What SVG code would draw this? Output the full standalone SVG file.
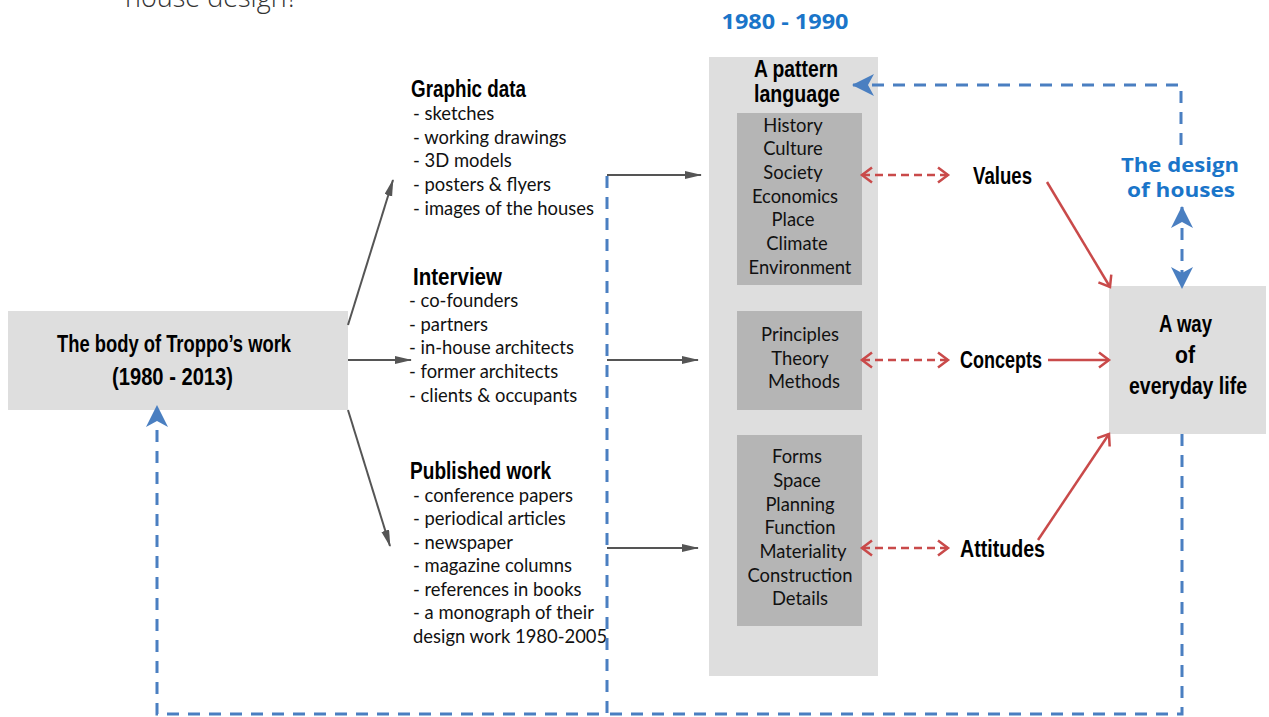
<svg xmlns="http://www.w3.org/2000/svg" width="1269" height="717" viewBox="0 0 1269 717">
<style>
.bg{fill:#fff}
.box{fill:#dedede}
.inner{fill:#b5b5b5}
.hd{font-family:"Liberation Sans",Arial,sans-serif;font-weight:bold;fill:#000;font-size:23px}
.it{font-family:Lato,"Liberation Sans",sans-serif;font-size:18.4px;fill:#111}
.ct{font-family:Lato,"Liberation Sans",sans-serif;font-size:18.4px;fill:#111;text-anchor:middle}
.blue{font-family:"Open Sans","Liberation Sans",sans-serif;font-weight:bold;fill:#1a75c9;text-anchor:middle}
.gl{stroke:#555;stroke-width:2;fill:none}
.rd{stroke:#c94a4a;stroke-width:2.5;fill:none;stroke-dasharray:8 5}
.rs{stroke:#c94a4a;stroke-width:2.5;fill:none}
.bl{stroke:#4a7fc1;stroke-width:3;fill:none;stroke-dasharray:12 9}
</style>
<defs>
<marker id="ga" markerUnits="userSpaceOnUse" markerWidth="18" markerHeight="10" refX="16" refY="4" orient="auto"><path d="M0,0 L17,4 L0,8 Z" fill="#555"/></marker>
<marker id="rc" markerUnits="userSpaceOnUse" markerWidth="14" markerHeight="20" refX="11" refY="9" orient="auto-start-reverse"><path d="M1,1.5 L11,9 L1,16.5" fill="none" stroke="#c94a4a" stroke-width="2.5"/></marker>
<marker id="ba" markerUnits="userSpaceOnUse" markerWidth="24" markerHeight="24" refX="21" refY="11" orient="auto-start-reverse"><path d="M0,0 L22,11 L0,22 L6,11 Z" fill="#4a7fc1"/></marker>
</defs>
<rect class="bg" x="0" y="0" width="1269" height="717"/>
<text x="125" y="7" font-family="'Open Sans','Liberation Sans',sans-serif" font-size="27" font-weight="300" fill="#333">house design?</text>

<g id="troppo">
<rect class="box" x="8" y="311" width="340" height="99"/>
<text class="hd" x="57" y="352" textLength="234" lengthAdjust="spacingAndGlyphs">The body of Troppo’s work</text>
<text class="hd" x="112" y="385" textLength="121" lengthAdjust="spacingAndGlyphs">(1980 - 2013)</text>
</g>

<g id="graphic">
<text class="hd" x="411" y="97" textLength="115" lengthAdjust="spacingAndGlyphs">Graphic data</text>
<text class="it" x="413" y="120">- sketches</text>
<text class="it" x="413" y="144">- working drawings</text>
<text class="it" x="413" y="167">- 3D models</text>
<text class="it" x="413" y="191">- posters &amp; flyers</text>
<text class="it" x="413" y="215">- images of the houses</text>
</g>

<g id="interview">
<text class="hd" x="413" y="285" textLength="89" lengthAdjust="spacingAndGlyphs">Interview</text>
<text class="it" x="409" y="307">- co-founders</text>
<text class="it" x="409" y="331">- partners</text>
<text class="it" x="409" y="354">- in-house architects</text>
<text class="it" x="409" y="378">- former architects</text>
<text class="it" x="409" y="402">- clients &amp; occupants</text>
</g>

<g id="published">
<text class="hd" x="410" y="479" textLength="141" lengthAdjust="spacingAndGlyphs">Published work</text>
<text class="it" x="413" y="502">- conference papers</text>
<text class="it" x="413" y="525">- periodical articles</text>
<text class="it" x="413" y="549">- newspaper</text>
<text class="it" x="413" y="572">- magazine columns</text>
<text class="it" x="413" y="596">- references in books</text>
<text class="it" x="413" y="619">- a monograph of their</text>
<text class="it" x="413" y="643">design work 1980-2005</text>
</g>

<g id="pattern">
<rect class="box" x="709" y="57" width="169" height="619"/>
<text class="hd" font-size="20"><tspan x="754" y="77" textLength="84" lengthAdjust="spacingAndGlyphs">A pattern</tspan><tspan x="754" y="102" textLength="86" lengthAdjust="spacingAndGlyphs">language</tspan></text>
</g>

<g id="values-box">
<rect class="inner" x="737" y="113" width="125" height="172"/>
<text class="ct" x="793" y="132">History</text>
<text class="ct" x="793" y="155">Culture</text>
<text class="ct" x="793" y="179">Society</text>
<text class="ct" x="795" y="203">Economics</text>
<text class="ct" x="793" y="226">Place</text>
<text class="ct" x="797" y="250">Climate</text>
<text class="ct" x="800" y="274">Environment</text>
</g>

<g id="concepts-box">
<rect class="inner" x="737" y="311" width="125" height="99"/>
<text class="ct" x="800" y="341">Principles</text>
<text class="ct" x="800" y="365">Theory</text>
<text class="ct" x="804" y="388">Methods</text>
</g>

<g id="attitudes-box">
<rect class="inner" x="737" y="435" width="125" height="191"/>
<text class="ct" x="797" y="463">Forms</text>
<text class="ct" x="797" y="487">Space</text>
<text class="ct" x="800" y="511">Planning</text>
<text class="ct" x="800" y="534">Function</text>
<text class="ct" x="803" y="558">Materiality</text>
<text class="ct" x="800" y="582">Construction</text>
<text class="ct" x="800" y="605">Details</text>
</g>

<g id="period"><text class="blue" x="785" y="29" font-size="21" textLength="127" lengthAdjust="spacingAndGlyphs">1980 - 1990</text></g>

<g id="values"><text class="hd" x="973" y="184" textLength="59" lengthAdjust="spacingAndGlyphs">Values</text></g>
<g id="concepts"><text class="hd" x="960" y="368" textLength="82" lengthAdjust="spacingAndGlyphs">Concepts</text></g>
<g id="attitudes"><text class="hd" x="960" y="557" textLength="85" lengthAdjust="spacingAndGlyphs">Attitudes</text></g>

<g id="design"><text class="blue" x="1180" y="172" font-size="20" textLength="118" lengthAdjust="spacingAndGlyphs">The design</text><text class="blue" x="1181" y="197" font-size="20" textLength="108" lengthAdjust="spacingAndGlyphs">of houses</text></g>

<g id="everyday">
<rect class="box" x="1109" y="286" width="157" height="148"/>
<text class="hd" x="1159" y="332" textLength="53" lengthAdjust="spacingAndGlyphs">A way</text>
<text class="hd" x="1175" y="363" textLength="20" lengthAdjust="spacingAndGlyphs">of</text>
<text class="hd" x="1129" y="394" textLength="118" lengthAdjust="spacingAndGlyphs">everyday life</text>
</g>

<g id="connectors">
<line class="gl" x1="348" y1="325" x2="393" y2="180" marker-end="url(#ga)"/>
<line class="gl" x1="348" y1="360" x2="411" y2="360" marker-end="url(#ga)"/>
<line class="gl" x1="348" y1="410" x2="390" y2="546" marker-end="url(#ga)"/>
<line class="gl" x1="607" y1="175" x2="701" y2="175" marker-end="url(#ga)"/>
<line class="gl" x1="607" y1="360" x2="698" y2="360" marker-end="url(#ga)"/>
<line class="gl" x1="607" y1="548" x2="698" y2="548" marker-end="url(#ga)"/>
<line class="rd" x1="862" y1="175" x2="948" y2="175" marker-start="url(#rc)" marker-end="url(#rc)"/>
<line class="rd" x1="862" y1="360" x2="948" y2="360" marker-start="url(#rc)" marker-end="url(#rc)"/>
<line class="rd" x1="862" y1="548" x2="948" y2="548" marker-start="url(#rc)" marker-end="url(#rc)"/>
<line class="rs" x1="1047" y1="182" x2="1110" y2="287" marker-end="url(#rc)"/>
<line class="rs" x1="1048" y1="360" x2="1109" y2="360" marker-end="url(#rc)"/>
<line class="rs" x1="1038" y1="540" x2="1109" y2="434" marker-end="url(#rc)"/>
<polyline class="bl" points="607,176 607,714 157,714 157,406" marker-end="url(#ba)"/>
<polyline class="bl" points="1182,434 1182,714 607,714"/>
<polyline class="bl" points="1181,145 1181,85 853,85" marker-end="url(#ba)"/>
<line class="bl" x1="1182" y1="207" x2="1182" y2="288" marker-start="url(#ba)" marker-end="url(#ba)" stroke-dasharray="12 8"/>
</g>
</svg>
